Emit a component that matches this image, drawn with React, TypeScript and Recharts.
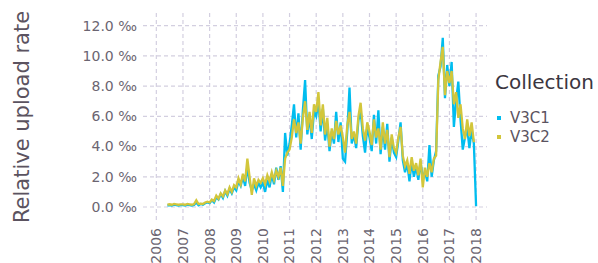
import React from "react";
import { LineChart, Line, XAxis, YAxis, ReferenceLine } from "recharts";

// Monthly series, starting June 2006
const startYear = 2006;
const startMonth = 6;

const v3c1: (number | null)[] = [
  // 2006 (Jun-Dec)
  0.10, 0.12, 0.10, 0.15, 0.12, 0.10, 0.12,
  // 2007
  0.12, 0.10, 0.15, 0.12, 0.10, 0.14, 0.30, 0.12, 0.20, 0.15, 0.25, 0.30,
  // 2008
  0.25, 0.45, 0.30, 0.65, 0.50, 0.85, 0.60, 1.05, 0.75, 1.20, 0.90, 1.30,
  // 2009
  1.10, 1.70, 1.40, 2.00, 1.40, 2.70, 1.60, 1.10, 1.50, 1.10, 1.60, 1.30,
  // 2010
  1.60, 1.00, 1.80, 1.30, 2.20, 1.50, 2.60, 1.80, 2.70, 1.00, 4.90, 3.40,
  // 2011
  4.20, 5.40, 6.80, 4.60, 6.20, 3.80, 6.40, 8.40, 4.80, 6.00, 4.50, 6.30,
  // 2012
  6.00, 7.00, 5.00, 6.50, 4.40, 5.50, 3.70, 5.00, 4.20, 6.30, 4.30, 5.60,
  // 2013
  3.20, 3.00, 5.00, 7.90, 4.20, 4.80, 3.90, 5.70, 6.40, 4.70, 3.60, 5.30,
  // 2014
  4.60, 3.70, 6.10, 4.20, 6.40, 3.50, 5.30, 3.80, 5.50, 3.00, 4.60, 3.60,
  // 2015
  3.30, 4.40, 5.60, 3.10, 2.30, 2.90, 1.70, 3.00, 2.00, 2.70, 1.80, 3.00,
  // 2016
  1.80, 2.40, 1.70, 4.10, 2.00, 3.10, 3.70, 8.70, 9.30, 11.20, 7.20, 9.40,
  // 2017
  8.00, 9.60, 5.30, 7.00, 8.30, 5.80, 3.80, 4.60, 5.20, 3.90, 5.10, 4.20,
  // 2018 (Jan)
  0.05,
];

const v3c2: (number | null)[] = [
  // 2006 (Jun-Dec)
  0.15, 0.18, 0.15, 0.20, 0.18, 0.15, 0.18,
  // 2007
  0.18, 0.15, 0.20, 0.18, 0.15, 0.20, 0.45, 0.20, 0.22, 0.20, 0.30, 0.35,
  // 2008
  0.30, 0.50, 0.40, 0.75, 0.55, 0.90, 0.70, 1.10, 0.85, 1.30, 1.00, 1.45,
  // 2009
  1.30, 1.90, 1.50, 2.20, 1.70, 3.20, 2.00, 0.80, 1.90, 1.40, 1.80, 1.60,
  // 2010
  1.90, 1.50, 2.10, 1.70, 2.30, 1.80, 2.40, 2.00, 2.60, 1.40, 3.20, 3.60,
  // 2011
  3.80, 4.60, 5.80, 4.90, 5.60, 4.20, 5.90, 7.00, 5.10, 6.30, 4.90, 6.80,
  // 2012
  6.30, 7.60, 5.40, 6.80, 4.80, 5.90, 4.00, 5.20, 4.50, 5.70, 4.80, 5.40,
  // 2013
  4.60, 3.60, 5.40, 6.30, 4.50, 5.00, 4.20, 6.00, 6.90, 5.20, 4.40, 5.60,
  // 2014
  5.00, 4.10, 5.80, 4.60, 5.20, 3.80, 5.60, 4.20, 5.10, 3.30, 4.80, 3.90,
  // 2015
  3.60, 4.60, 5.30, 3.40, 2.70, 3.10, 2.20, 3.30, 2.40, 2.90, 2.10, 3.20,
  // 2016
  1.30, 2.60, 2.00, 2.90, 2.30, 3.20, 3.40, 8.40, 9.60, 10.60, 7.40, 9.00,
  // 2017
  8.20, 9.00, 6.80, 7.60, 5.90, 6.80, 5.20, 4.50, 5.80, 4.70, 5.60, 4.30,
  // 2018 (Jan)
  null,
];

const yearTicks = [2006, 2007, 2008, 2009, 2010, 2011, 2012, 2013, 2014, 2015, 2016, 2017, 2018];
const rateTicks = [0, 2, 4, 6, 8, 10, 12];
const seriesNames = ["V3C1", "V3C2"];
const legendTitle = "Collection";
const yTitle = "Relative upload rate";

const colors = ["#00BDEF", "#D2C63B"];
const gridColor = "#d3cfe0";
const FONT = "'DejaVu Sans', Verdana, sans-serif";

const data = v3c1.map((c1, i) => {
  const m = startMonth - 1 + i;
  return {
    x: startYear + Math.floor(m / 12) + (m % 12) / 12,
    c1,
    c2: v3c2[i],
  };
});

const XTick = (props: any) => {
  const { x, payload } = props;
  const y = 228;
  return (
    <text
      x={x}
      y={y}
      dy="0.35em"
      textAnchor="end"
      transform={`rotate(-90, ${x}, ${y})`}
      fill="#6b6571"
      fontSize={14}
      fontFamily={FONT}
    >
      {payload.value}
    </text>
  );
};

const YTick = (props: any) => {
  const { y, payload } = props;
  return (
    <text
      x={137}
      y={y}
      dy="0.35em"
      textAnchor="end"
      fill="#6b6571"
      fontSize={14}
      fontFamily={FONT}
    >
      {payload.value.toFixed(1) + " ‰"}
    </text>
  );
};

export default function App() {
  return (
    <div style={{ position: "absolute", left: 0, top: 0, width: 598, height: 263, background: "#fff", fontFamily: FONT }}>
      <LineChart
        width={598}
        height={263}
        data={data}
        margin={{ top: 13, right: 111, bottom: 0, left: 0 }}
      >
        <XAxis
          type="number"
          dataKey="x"
          domain={[2005.5, 2018.41]}
          ticks={yearTicks}
          allowDataOverflow
          height={43}
          axisLine={false}
          tickLine={false}
          interval={0}
          tick={<XTick />}
        />
        <YAxis
          type="number"
          domain={[-0.86, 12.84]}
          ticks={rateTicks}
          allowDataOverflow
          width={143}
          axisLine={false}
          tickLine={false}
          interval={0}
          tick={<YTick />}
        />
        {rateTicks.map((t) => (
          <ReferenceLine key={"h" + t} y={t} stroke={gridColor} strokeDasharray="4 3" strokeWidth={1.2} />
        ))}
        {yearTicks.map((t) => (
          <ReferenceLine key={"v" + t} x={t} stroke={gridColor} strokeDasharray="4 3" strokeWidth={1.2} />
        ))}
        <Line
          type="linear"
          dataKey="c1"
          name={seriesNames[0]}
          stroke={colors[0]}
          strokeWidth={2.3}
          dot={false}
          isAnimationActive={false}
        />
        <Line
          type="linear"
          dataKey="c2"
          name={seriesNames[1]}
          stroke={colors[1]}
          strokeWidth={2.3}
          dot={false}
          isAnimationActive={false}
        />
      </LineChart>
      <div
        style={{
          position: "absolute",
          left: 22,
          top: 117,
          transform: "translate(-50%, -50%) rotate(-90deg)",
          whiteSpace: "nowrap",
          fontSize: 21,
          color: "#5b5360",
          lineHeight: 1,
        }}
      >
        {yTitle}
      </div>
      <div style={{ position: "absolute", left: 495, top: 70, fontSize: 20, color: "#3b3640", lineHeight: "24px", whiteSpace: "nowrap" }}>
        {legendTitle}
      </div>
      {seriesNames.map((n, i) => (
        <div
          key={n}
          style={{ position: "absolute", left: 497, top: 109 + i * 19, height: 18, display: "flex", alignItems: "center", whiteSpace: "nowrap" }}
        >
          <span style={{ display: "inline-block", width: 4, height: 4, background: colors[i], marginRight: 9 }} />
          <span style={{ fontSize: 15, color: "#5b5360" }}>{n}</span>
        </div>
      ))}
    </div>
  );
}
